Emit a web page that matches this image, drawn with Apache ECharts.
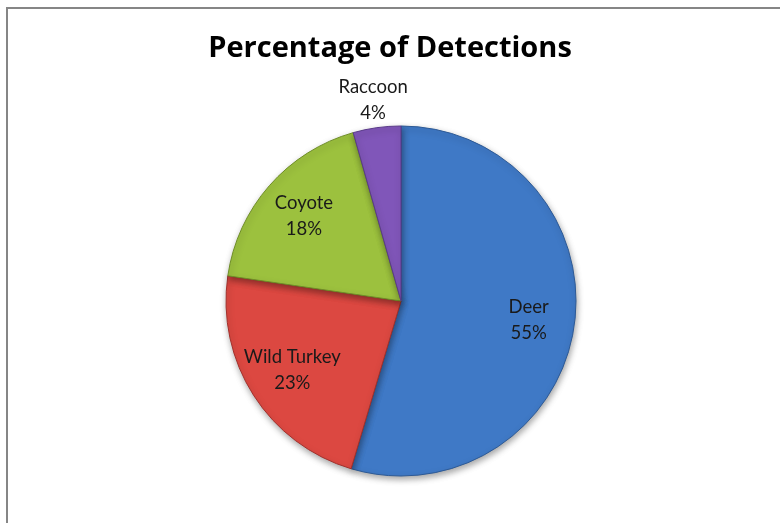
<!DOCTYPE html>
<html>
<head>
<meta charset="utf-8">
<script src="https://cdn.jsdelivr.net/npm/echarts@6/dist/echarts.min.js"></script>
<style>
html,body{margin:0;padding:0;background:#fff;}
#chart{width:780px;height:523px;}
</style>
</head>
<body>
<div id="chart"></div>
<script>
var titleText = 'Percentage of Detections';
var categories = ['Deer', 'Wild Turkey', 'Coyote', 'Raccoon'];
// estimated shares (labels show the rounded percentages 55 / 23 / 18 / 4)
var values = [54.6, 22.7, 18.3, 4.4];
var sliceColors = ['#3f79c6', '#dc4841', '#9cc13e', '#8056b9'];
var edgeColors = ['#2d5a96', '#a3302b', '#6f8e27', '#5a3a8a'];
var outsideLabel = ['Raccoon'];

var chart = echarts.init(document.getElementById('chart'), null, {renderer: 'canvas'});

var cx = 401, cy = 301, R = 175;
var labelFont = {fontFamily: 'Lato', fontSize: 18.5, color: '#1a1a1a', lineHeight: 26};

function mainData() {
  return categories.map(function (c, i) {
    return {
      name: c, value: values[i],
      itemStyle: {color: sliceColors[i], borderColor: edgeColors[i]}
    };
  });
}
function ghostData(showFn) {
  return categories.map(function (c, i) {
    return {
      name: c, value: values[i],
      label: {show: showFn(c)}
    };
  });
}
function ghost(radius, showFn) {
  return {
    type: 'pie', center: [cx, cy], radius: [0, radius], startAngle: 90, clockwise: true,
    silent: true, avoidLabelOverlap: false, z: 5, percentPrecision: 0,
    itemStyle: {color: 'rgba(0,0,0,0)', borderWidth: 0},
    label: Object.assign({position: 'inside', formatter: '{b}\n{d}%'}, labelFont),
    labelLine: {show: false},
    emphasis: {disabled: true},
    data: ghostData(showFn)
  };
}

chart.setOption({
  animation: false,
  backgroundColor: '#ffffff',
  title: {
    text: titleText, left: 'center', top: 29,
    textStyle: {fontFamily: 'Open Sans', fontWeight: 'bold', fontSize: 29, color: '#000'}
  },
  graphic: [{
    type: 'rect', silent: true, z: -1,
    shape: {x: 7, y: 8, width: 800, height: 600},
    style: {fill: 'none', stroke: '#868686', lineWidth: 2}
  }],
  series: [
    {
      type: 'pie', center: [cx, cy], radius: [0, R], startAngle: 90, clockwise: true,
      silent: true,
      label: {show: false}, labelLine: {show: false},
      itemStyle: {borderWidth: 1, shadowBlur: 6, shadowOffsetX: 1, shadowOffsetY: 3, shadowColor: 'rgba(0,0,0,0.35)'},
      data: mainData()
    },
    ghost(R * 2 * 0.72, function (c) { return outsideLabel.indexOf(c) < 0; }),
    ghost(R * 2 * 1.14, function (c) { return outsideLabel.indexOf(c) >= 0; })
  ]
});
</script>
</body>
</html>
